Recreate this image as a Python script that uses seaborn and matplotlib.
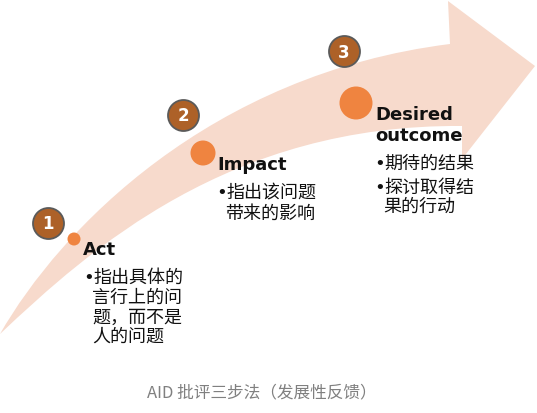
import matplotlib.pyplot as plt
import seaborn as sns
from matplotlib.path import Path
from matplotlib.patches import PathPatch

# Diagram content
steps = ["1", "2", "3"]
titles = [["Act"], ["Impact"], ["Desired", "outcome"]]
bullets = [
    ["•指出具体的", "言行上的问", "题，而不是", "人的问题"],
    ["•指出该问题", "带来的影响"],
    ["•期待的结果", "•探讨取得结", "果的行动"],
]
caption = "AID 批评三步法（发展性反馈）"

# Layout (pixel coordinates, y downwards)
badge_xy = [(48, 224), (183, 116), (344, 52)]
dot_xy = [(74, 240), (203, 154), (356, 104)]
dot_px = [13, 25, 33]
title_xy = [(83, [250]), (217, [165]), (375, [115, 136])]
bullet_x = [86, 219, 377]
bullet_y = [[278, 298, 318, 337], [193, 214], [164, 188, 207]]

sns.set_theme(style="white")
plt.rcParams["font.family"] = ["Noto Sans CJK SC", "DejaVu Sans"]

fig = plt.figure(figsize=(5.37, 4.14), dpi=100)
ax = fig.add_axes([0, 0, 1, 1])
ax.set_xlim(0, 537)
ax.set_ylim(414, 0)
ax.set_axis_off()

# Curved arrow band
verts = [
    (0, 335), (60, 230), (210, 75), (450, 45),
    (448, 2), (535, 67), (462, 160), (462, 127),
    (230, 125), (90, 250), (0, 335), (0, 335),
]
codes = [Path.MOVETO, Path.CURVE4, Path.CURVE4, Path.CURVE4,
         Path.LINETO, Path.LINETO, Path.LINETO, Path.LINETO,
         Path.CURVE4, Path.CURVE4, Path.CURVE4, Path.CLOSEPOLY]
ax.add_patch(PathPatch(Path(verts, codes), facecolor="#F7DACC", edgecolor="none", zorder=1))

px2pt = 72 / 100
for i, s in enumerate(steps):
    bx, by = badge_xy[i]
    sns.scatterplot(x=[bx], y=[by], s=(31 * px2pt) ** 2, color="#AD6128",
                    edgecolor="#5A5A5A", linewidth=1.3, ax=ax, legend=False, zorder=3)
    ax.text(bx, by + 0.5, s, color="white", fontsize=12, fontweight="bold",
            family="DejaVu Sans", ha="center", va="center", zorder=4)

    dx, dy = dot_xy[i]
    sns.scatterplot(x=[dx], y=[dy], s=(dot_px[i] * px2pt) ** 2, color="#EF8440",
                    edgecolor="none", ax=ax, legend=False, zorder=3)

    tx, tys = title_xy[i]
    for line, ty in zip(titles[i], tys):
        ax.text(tx, ty, line, fontsize=13, fontweight="bold", family="DejaVu Sans",
                color="#111111", ha="left", va="center", zorder=4)

    x0 = bullet_x[i]
    for line, ly in zip(bullets[i], bullet_y[i]):
        if line.startswith("•"):
            ax.text(x0 + 3, ly, "•", fontsize=13, family="DejaVu Sans", color="#111111",
                    ha="center", va="center", zorder=4)
            ax.text(x0 + 7, ly, line[1:], fontsize=13, fontweight="medium",
                    color="#111111", ha="left", va="center", zorder=4)
        else:
            ax.text(x0 + 6, ly, line, fontsize=13, fontweight="medium",
                    color="#111111", ha="left", va="center", zorder=4)

ax.text(262, 393, caption, fontsize=12, color="#808080", ha="center", va="center")

fig.savefig("out.png", dpi=100, facecolor="white")
